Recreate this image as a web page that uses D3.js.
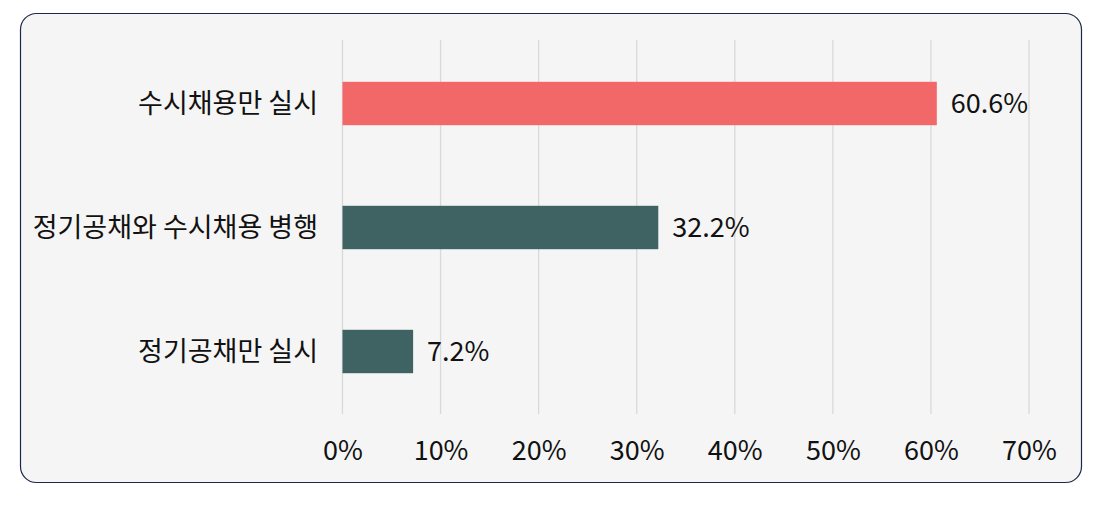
<!DOCTYPE html>
<html><head><meta charset="utf-8">
<script src="https://cdn.jsdelivr.net/npm/d3@7"></script>
<style>html,body{margin:0;padding:0;background:#fff;}svg{display:block;}</style>
</head><body>
<svg id="c" width="1102" height="512"></svg>
<script>
const categories = ["수시채용만 실시", "정기공채와 수시채용 병행", "정기공채만 실시"];
const values = [60.6, 32.2, 7.2];
const valueLabels = ["60.6%", "32.2%", "7.2%"];
const barColors = ["#f26868", "#3e6362", "#3e6362"];
const tickValues = [0, 10, 20, 30, 40, 50, 60, 70];
const tickLabels = ["0%", "10%", "20%", "30%", "40%", "50%", "60%", "70%"];

const svg = d3.select("#c");
const font = "'Noto Sans CJK KR', 'Noto Sans', sans-serif";

svg.append("rect").attr("x", 20.5).attr("y", 13.5).attr("width", 1061).attr("height", 469)
  .attr("rx", 16).attr("ry", 16).attr("fill", "#f5f5f5").attr("stroke", "#1a2a4a").attr("stroke-width", 1.2);

const x = d3.scaleLinear().domain([0, 70]).range([342.5, 1029]);
const y = d3.scaleBand().domain(categories).range([41.5, 413.5]).paddingInner(0.65).paddingOuter(0.325);

const g = svg.append("g");
g.selectAll("line.grid").data(tickValues).join("line")
  .attr("class", "grid")
  .attr("x1", d => x(d)).attr("x2", d => x(d))
  .attr("y1", 40).attr("y2", 414)
  .attr("stroke", "#d9d9d9").attr("stroke-width", 1.3);

const xAxis = d3.axisBottom(x).tickValues(tickValues).tickFormat((d, i) => tickLabels[i]).tickSize(0).tickPadding(0);
const ax = svg.append("g").attr("transform", "translate(0,450)").call(xAxis);
ax.select(".domain").remove();
ax.selectAll("text").attr("font-family", font).attr("font-size", 27).attr("fill", "#111").attr("dy", "0.36em");

g.selectAll("rect.bar").data(values).join("rect")
  .attr("class", "bar")
  .attr("x", x(0))
  .attr("y", (d, i) => y(categories[i]))
  .attr("width", d => x(d) - x(0))
  .attr("height", y.bandwidth())
  .attr("fill", (d, i) => barColors[i]);

g.selectAll("text.val").data(values).join("text")
  .attr("class", "val")
  .attr("x", d => x(d) + 14)
  .attr("y", (d, i) => y(categories[i]) + y.bandwidth() / 2)
  .attr("dy", "0.36em")
  .attr("font-family", font).attr("font-size", 27).attr("fill", "#111")
  .text((d, i) => valueLabels[i]);

const yAxis = d3.axisLeft(y).tickSize(0).tickPadding(0);
const ay = svg.append("g").attr("transform", "translate(318,0)").call(yAxis);
ay.select(".domain").remove();
ay.selectAll("text").attr("font-family", font).attr("font-size", 27).attr("fill", "#111").attr("dy", "0.36em");
</script>
</body></html>
